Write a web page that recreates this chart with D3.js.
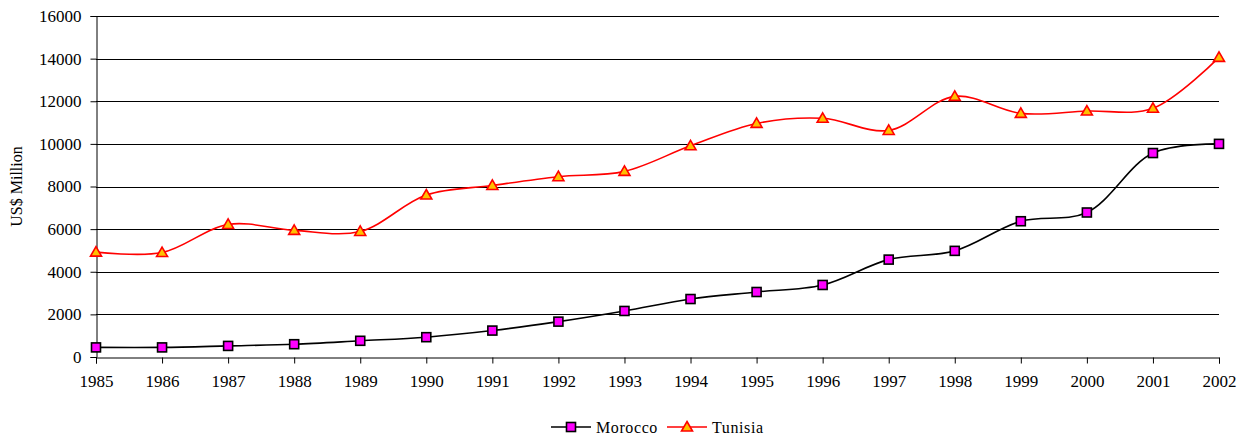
<!DOCTYPE html>
<html>
<head>
<meta charset="utf-8">
<script src="https://cdn.jsdelivr.net/npm/d3@7"></script>
</head>
<body style="margin:0">
<script>
const width = 1243;
const height = 437;
const serif = "Liberation Serif";

const years = [1985, 1986, 1987, 1988, 1989, 1990, 1991, 1992, 1993,
  1994, 1995, 1996, 1997, 1998, 1999, 2000, 2001, 2002];
const morocco = [450, 450, 520, 600, 760, 930, 1240, 1660, 2160,
  2720, 3050, 3380, 4570, 4980, 6370, 6780, 9570, 10000];
const tunisia = [4920, 4900, 6220, 5940, 5890, 7600, 8050, 8460, 8710,
  9910, 10960, 11200, 10630, 12230, 11430, 11540, 11670, 14060];
const yTicks = [0, 2000, 4000, 6000, 8000, 10000, 12000, 14000, 16000];

const margin = { left: 96, right: 24, top: 16, bottom: 80 };

const svg = d3.select("body")
  .append("svg")
  .attr("width", width)
  .attr("height", height)
  .attr("font-family", serif);

const x = d3.scaleLinear()
  .domain([1985, 2002])
  .range([margin.left, width - margin.right]);

const y = d3.scaleLinear()
  .domain([0, 16000])
  .range([height - margin.bottom, margin.top]);

// gridlines
svg.append("g")
  .selectAll("line")
  .data(yTicks.filter(d => d > 0))
  .enter()
  .append("line")
  .attr("x1", x.range()[0])
  .attr("x2", x.range()[1])
  .attr("y1", d => Math.round(y(d)) + 0.5)
  .attr("y2", d => Math.round(y(d)) + 0.5)
  .attr("stroke", "#000")
  .attr("stroke-width", 1);

// y axis
const yAxis = svg.append("g")
  .attr("transform", `translate(${x.range()[0] + 0.5},0)`)
  .call(d3.axisLeft(y).tickValues(yTicks).tickSize(6).tickPadding(9).tickFormat(d3.format("d")));
yAxis.attr("font-family", serif).attr("font-size", 17);
yAxis.select(".domain").attr("stroke", "#000");
yAxis.selectAll("text").attr("fill", "#000");

// x axis
const xAxis = svg.append("g")
  .attr("transform", `translate(0,${Math.round(y(0)) + 0.5})`)
  .call(d3.axisBottom(x).tickValues(years).tickSize(6).tickPadding(11).tickFormat(d3.format("d")));
xAxis.attr("font-family", serif).attr("font-size", 17);
xAxis.select(".domain").attr("stroke", "#000");
xAxis.selectAll("text").attr("fill", "#000");

// y label
svg.append("text")
  .attr("transform", `translate(22,${(y(0) + y(16000)) / 2}) rotate(-90)`)
  .attr("text-anchor", "middle")
  .attr("font-family", serif)
  .attr("font-size", 16)
  .text("US$ Million");

const line = d3.line()
  .x((d, i) => x(years[i]))
  .y(d => y(d))
  .curve(d3.curveCatmullRom.alpha(0.5));

const series = [
  { name: "Morocco", values: morocco, color: "#000", fill: "#ff00ff", shape: "square" },
  { name: "Tunisia", values: tunisia, color: "#ff0000", fill: "#ffc000", shape: "triangle" }
];

function drawMarker(g, s, cx, cy) {
  if (s.shape === "square") {
    g.append("rect")
      .attr("x", cx - 4.5)
      .attr("y", cy - 4.5)
      .attr("width", 9)
      .attr("height", 9)
      .attr("fill", s.fill)
      .attr("stroke", "#000")
      .attr("stroke-width", 1.6);
  } else {
    g.append("path")
      .attr("d", `M${cx},${cy - 5.5}L${cx + 5.5},${cy + 4}L${cx - 5.5},${cy + 4}Z`)
      .attr("fill", s.fill)
      .attr("stroke", s.color)
      .attr("stroke-width", 1.6)
      .attr("stroke-linejoin", "miter");
  }
}

series.forEach(s => {
  svg.append("path")
    .datum(s.values)
    .attr("d", line)
    .attr("fill", "none")
    .attr("stroke", s.color)
    .attr("stroke-width", 1.6);
  const g = svg.append("g");
  s.values.forEach((v, i) => drawMarker(g, s, x(years[i]), y(v)));
});

// legend
const legendY = 427;
const legendX = [551, 667];
series.forEach((s, i) => {
  const lx = legendX[i];
  svg.append("line")
    .attr("x1", lx)
    .attr("x2", lx + 40)
    .attr("y1", legendY)
    .attr("y2", legendY)
    .attr("stroke", s.color)
    .attr("stroke-width", 1.6);
  drawMarker(svg, s, lx + 20, legendY);
  svg.append("text")
    .attr("x", lx + 45)
    .attr("y", legendY + 6)
    .attr("font-family", serif)
    .attr("font-size", 16)
    .attr("letter-spacing", 0.6)
    .text(s.name);
});
</script>
</body>
</html>
